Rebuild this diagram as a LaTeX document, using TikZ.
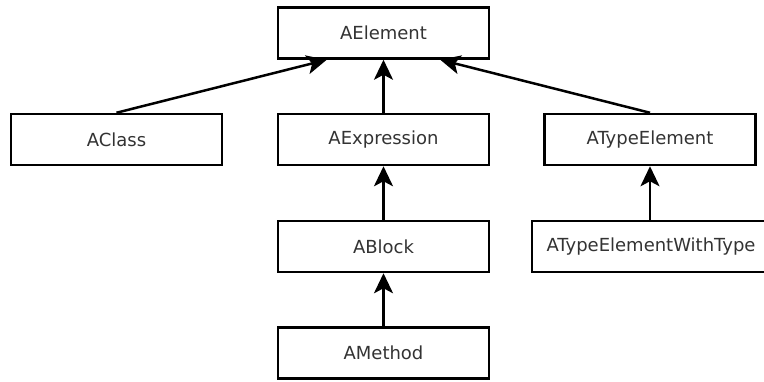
\documentclass[tikz,border=0pt]{standalone}
\usepackage{fontspec}
\setmainfont{DejaVu Sans}
\usepackage{tikz}
\usetikzlibrary{arrows.meta}

\tikzset{cls/.style={draw=black, line width=2.5pt, fill=white, text=black!80,
  minimum width=211pt, minimum height=51pt, inner sep=0pt,
  font=\fontsize{18}{21}\selectfont},
  inh/.style={line width=2.5pt, -{Stealth[length=20pt, width=19pt, inset=5pt]}}}

\begin{document}
\begin{tikzpicture}[x=1pt, y=-1pt]
\useasboundingbox (0,0) rectangle (764,381);
\node[cls] (aelement) at (383.5,33) {AElement};
\node[cls] (aclass) at (116.5,139.5) {AClass};
\node[cls] (aexpr) at (383.5,139.5) {AExpression};
\node[cls] (atype) at (650,139.5) {ATypeElement};
\node[cls] (ablock) at (383.5,246.5) {ABlock};
\node[cls, minimum width=238pt] (atypewt) at (651,246.5) {ATypeElementWithType};
\node[cls] (amethod) at (383.5,353) {AMethod};

\draw[inh] (aclass.north) -- ([xshift=50pt]aelement.south west);
\draw[inh] (aexpr) -- (aelement);
\draw[inh] (atype.north) -- ([xshift=-50pt]aelement.south east);
\draw[inh] (ablock) -- (aexpr);
\draw[inh] (atypewt.north -| atype) -- (atype);
\draw[inh] (amethod) -- (ablock);
\end{tikzpicture}
\end{document}
